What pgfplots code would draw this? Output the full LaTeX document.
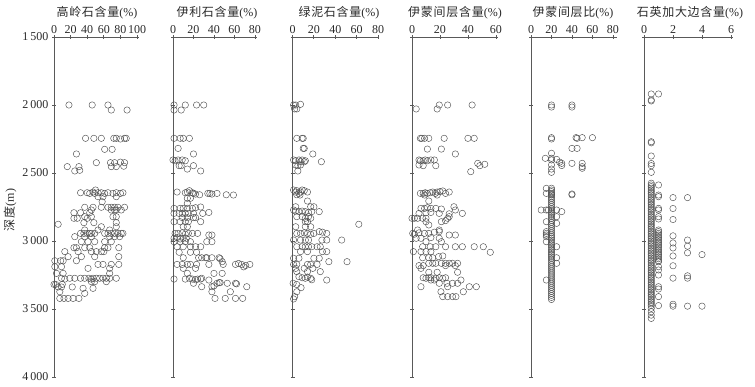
\documentclass[border=0pt]{standalone}
\usepackage{fontspec}
\setmainfont{Liberation Serif}
\newfontfamily\cjk[LetterSpace=6]{Noto Sans CJK SC}
\usepackage{pgfplots}
\pgfplotsset{compat=1.18}
\definecolor{axc}{HTML}{595959}
\definecolor{mkc}{HTML}{505050}
\definecolor{txc}{HTML}{2A2A2A}
\pgfplotsset{panel/.style={
  scale only axis, height=340pt, y dir=reverse, ymin=1500, ymax=4000,
  axis x line*=top, axis y line*=left, xmin=0,
  ytick={1500,2000,2500,3000,3500,4000}, yticklabels={},
  axis line style={draw=axc, line width=0.8pt},
  tick style={draw=axc, line width=0.8pt},
  major tick length=4pt, tick align=center,
  xticklabel style={font=\fontsize{12}{12}\selectfont, text=txc, inner sep=1pt},
  yticklabel style={font=\fontsize{12}{12}\selectfont, text=txc},
  clip=false,
},
pts/.style={only marks, mark=o, mark size=3.2pt, draw=mkc,
  mark options={draw=mkc, fill=none, line width=0.45pt}}}
\newcommand{\ttl}[1]{\fontsize{12}{12}\selectfont\color{txc}#1}
\begin{document}
\begin{tikzpicture}
\useasboundingbox (0pt,37pt) rectangle (755pt,-349pt);
% Panel 1
\begin{axis}[panel, at={(54pt,0pt)}, anchor=north west, xmax=102, width=84.7pt,
  xtick={0,20,40,60,80,100}, xticklabels={0,20,40,60,80,100},
  yticklabels={1\,500,2\,000,2\,500,3\,000,3\,500,4\,000}]
\addplot[pts] table {
18 2000
46 2000
65 2000
88 2037
69 2037
38 2245
48 2245
57 2245
72 2245
75 2245
80 2250
85 2245
87 2245
61 2326
70 2326
27 2360
51 2424
68 2424
73 2424
80 2420
85 2424
16 2453
30 2453
69 2453
75 2453
84 2450
25 2485
31 2480
50 2625
32 2645
40 2645
43 2650
47 2640
49 2650
53 2645
57 2645
61 2650
65 2645
71 2650
75 2645
80 2650
83 2645
53 2674
59 2674
75 2674
58 2711
37 2752
47 2752
57 2752
65 2752
69 2752
73 2752
77 2752
85 2752
45 2772
69 2772
73 2772
75 2772
81 2772
24 2792
32 2792
43 2792
37 2821
45 2821
75 2821
71 2821
40 2833
24 2833
28 2833
36 2865
48 2865
75 2865
5 2877
57 2895
75 2895
37 2919
53 2919
67 2919
32 2944
36 2944
40 2944
43 2944
45 2944
49 2944
61 2944
65 2944
69 2944
73 2944
77 2944
81 2944
83 2944
25 2968
37 2968
45 2968
67 2968
73 2968
79 2968
33 3005
41 3005
49 3005
61 3005
69 3005
24 3049
27 3049
37 3049
43 3049
61 3049
65 3049
78 3049
13 3078
29 3078
45 3078
51 3078
57 3078
60 3078
17 3115
33 3115
49 3115
78 3115
1 3145
8 3145
11 3145
27 3145
53 3172
59 3172
69 3172
78 3172
1 3189
9 3189
41 3201
67 3201
3 3238
11 3238
67 3238
9 3274
13 3280
19 3274
25 3274
32 3274
37 3274
42 3274
45 3280
47 3274
51 3274
55 3274
59 3274
63 3274
67 3274
75 3274
45 3299
49 3299
63 3299
0 3319
2 3319
10 3319
5 3338
9 3338
22 3338
47 3348
35 3348
7 3373
37 3385
7 3422
12 3422
17 3422
23 3422
30 3422
};
\end{axis}
% Panel 2
\begin{axis}[panel, at={(173pt,0pt)}, anchor=north west, xmax=82, width=84pt,
  xtick={0,20,40,60,80}, xticklabels={0,20,40,60,80}]
\addplot[pts] table {
1 2000
12 2000
23 2000
30 2000
1 2037
8 2037
1 2245
7 2245
10 2245
16 2245
5 2319
20 2360
0 2404
2 2410
5 2404
9 2404
12 2410
6 2446
8 2446
20 2446
14 2471
27 2485
4 2640
12 2645
14 2640
16 2630
19 2645
20 2650
22 2655
26 2660
34 2650
36 2650
38 2655
43 2650
52 2660
59 2662
14 2686
17 2686
14 2723
1 2760
7 2760
10 2760
14 2760
19 2760
22 2755
27 2750
1 2797
6 2797
9 2797
12 2797
15 2797
20 2797
29 2797
35 2790
9 2828
14 2828
20 2828
22 2828
1 2858
7 2858
12 2858
15 2858
27 2858
10 2895
14 2895
2 2944
5 2944
9 2940
12 2950
15 2944
19 2944
24 2944
35 2956
38 2956
1 2980
4 2975
7 2985
10 2980
13 2980
1 3005
7 3005
12 3005
17 3005
33 3005
38 3005
4 3042
10 3042
17 3042
22 3042
27 3042
6 3083
17 3083
23 3083
10 3123
25 3123
28 3123
32 3123
33 3123
38 3123
45 3123
46 3130
48 3152
4 3172
9 3172
14 3172
17 3172
23 3172
35 3172
49 3172
61 3172
64 3165
67 3172
71 3180
75 3172
10 3201
22 3201
69 3190
14 3238
40 3238
48 3238
1 3280
12 3280
16 3274
19 3280
22 3285
24 3280
27 3280
28 3274
35 3287
20 3311
43 3311
45 3306
46 3306
53 3311
61 3311
62 3315
28 3336
38 3336
40 3330
72 3336
38 3373
56 3373
41 3422
51 3422
61 3422
68 3422
};
\end{axis}
% Panel 3
\begin{axis}[panel, at={(292.5pt,0pt)}, anchor=north west, xmax=81, width=86.6pt,
  xtick={0,20,40,60,80}, xticklabels={0,20,40,60,80}]
\addplot[pts] table {
1 2000
3 2000
7.5 1995
2 2029
4 2029
4 2245
9 2245
10 2245
10 2319
11 2319
19 2360
1 2404
3 2410
6 2404
7.5 2417
9 2404
11 2417
12 2410
3 2441
5 2446
7.5 2441
27 2417
5 2485
1 2625
3 2640
4 2630
6 2650
7.5 2640
9 2625
11 2630
14 2640
4 2660
7 2662
14 2706
3 2748
17 2748
20 2748
1 2772
3 2780
6 2784
9 2780
12 2784
15 2790
18 2784
25 2784
4 2821
9 2821
12 2833
15 2821
17 2833
12 2858
14 2858
62 2877
3 2895
12 2895
17 2895
4 2944
7.5 2944
11 2940
14 2944
17 2950
20 2944
25 2931
28 2935
32 2944
1 2993
7.5 2993
12 2993
15 2993
27.5 2993
46 2993
32 2993
4 3042
9 3042
12 3042
15 3042
18 3042
23 3042
26 3042
7.5 3078
14 3078
28 3078
32 3078
1 3127
6 3127
20 3127
25 3127
34 3152
51 3152
1 3172
4 3172
14 3172
17 3172
23 3172
3 3201
11 3201
19 3201
4 3225
14 3225
26 3225
6 3262
9 3270
12 3274
14 3265
17 3274
18 3285
32 3287
0.6 3311
4 3320
8 3343
4 3373
2 3409
1 3426
};
\end{axis}
% Panel 4
\begin{axis}[panel, at={(412pt,0pt)}, anchor=north west, xmax=61.5, width=86pt,
  xtick={0,20,40,60}, xticklabels={0,20,40,60}]
\addplot[pts] table {
19.5 2000
25.5 2000
43 2000
3 2029
18 2029
6 2245
7 2245
9 2245
12 2245
23 2245
40 2245
44.5 2245
11 2324
21 2324
31 2360
5 2404
6 2410
8 2410
9.5 2404
11 2410
13.5 2404
16 2404
5 2441
8 2446
17 2446
47 2429
48.5 2446
52 2436
42 2490
6 2650
8 2650
9.5 2645
11 2650
13 2645
14.8 2640
16.7 2650
18 2640
20 2637
22 2632
24 2650
26.6 2640
9 2662
18 2662
12 2706
6.4 2760
9 2760
11 2755
13.5 2760
17 2760
21 2765
30 2748
31 2772
5 2797
10 2792
13.5 2790
19.5 2797
26.6 2800
36 2797
0 2833
1.7 2833
4 2833
7.6 2833
10 2833
25.5 2833
26.6 2821
10 2858
21 2858
24 2850
12 2882
4 2919
19.5 2919
0.5 2944
1.7 2950
5 2940
9 2944
12 2944
16 2935
19.5 2931
26.6 2956
31 2956
3 2980
6.4 2980
13.5 2975
19.5 2980
10 3005
21 3005
7.6 3042
13 3042
17 3042
24 3042
31 3042
36 3042
44.5 3042
51 3042
1 3078
6.4 3078
10 3078
13.5 3078
56 3083
7.6 3123
12 3123
14.8 3123
19 3115
22 3110
12 3164
14.8 3164
17 3164
21 3164
24 3164
26.6 3164
29 3164
32.6 3164
5 3181
8 3181
24 3181
31 3181
6.4 3201
12 3230
18 3230
32.6 3230
8 3270
10 3274
12 3270
13.5 3270
17 3274
19.5 3270
22 3274
24 3270
13.5 3287
16 3287
35 3287
19.5 3311
25 3311
29 3311
32.6 3311
6.4 3336
25.5 3336
41 3336
46 3336
20.7 3373
36.7 3373
22 3409
25.5 3409
29 3409
31.4 3409
};
\end{axis}
% Panel 5
\begin{axis}[panel, at={(531pt,0pt)}, anchor=north west, xmax=84, width=86pt,
  xtick={0,20,40,60,80}, xticklabels={0,20,40,60,80}]
\addplot[pts] table {
20 2000
20 2015
40 2000
40 2015
20 2240
20 2250
44 2240
45 2245
50 2240
60 2240
40 2319
45 2319
20 2355
14 2392
20 2392
25 2400
20 2404
28 2420
30 2429
40 2429
50 2429
20 2441
30 2445
50 2453
50 2465
20 2471
20 2495
15 2613
15 2650
20 2655
40 2654
40 2660
10 2772
15 2772
17 2772
25 2772
30 2784
25 2821
15 2858
25 2870
15 2931
15 2944
15 2956
15 2968
15 3005
25 3042
25 3123
25 3164
15 3287
20 2612
20 2625
20 2637
20 2650
20 2662
20 2674
20 2686
20 2700
20 2715
20 2730
20 2745
20 2760
20 2772
20 2784
20 2797
20 2810
20 2822
20 2835
20 2850
20 2865
20 2880
20 2895
20 2910
20 2925
20 2940
20 2955
20 2968
20 2980
20 2993
20 3005
20 3018
20 3030
20 3042
20 3055
20 3068
20 3080
20 3093
20 3105
20 3118
20 3130
20 3145
20 3160
20 3175
20 3190
20 3205
20 3220
20 3235
20 3250
20 3265
20 3280
20 3295
20 3310
20 3325
20 3340
20 3355
20 3370
20 3385
20 3400
20 3415
20 3430
};
\end{axis}
% Panel 6
\begin{axis}[panel, at={(644pt,0pt)}, anchor=north west, xmax=6.1, width=88.5pt,
  xtick={0,2,4,6}, xticklabels={0,2,4,6}]
\addplot[pts] table {
0.5 1919
1 1919
0.5 1963
0.5 1970
0.5 2270
0.5 2278
0.5 2375
0.5 2430
0.5 2446
0.5 2495
0.5 2575
0.5 2588
0.5 2600
0.5 2612
0.5 2625
0.5 2637
0.5 2650
0.5 2662
0.5 2675
0.5 2688
0.5 2700
0.5 2712
0.5 2725
0.5 2737
0.5 2750
0.5 2762
0.5 2775
0.5 2787
0.5 2800
0.5 2812
0.5 2825
0.5 2837
0.5 2850
0.5 2862
0.5 2875
0.5 2887
0.5 2900
0.5 2912
0.5 2925
0.5 2937
0.5 2950
0.5 2962
0.5 2975
0.5 2987
0.5 3000
0.5 3012
0.5 3025
0.5 3037
0.5 3050
0.5 3062
0.5 3075
0.5 3087
0.5 3100
0.5 3112
0.5 3125
0.5 3137
0.5 3150
0.5 3162
0.5 3175
0.5 3187
0.5 3200
0.5 3212
0.5 3225
0.5 3237
0.5 3250
0.5 3262
0.5 3275
0.5 3287
0.5 3300
0.5 3312
0.5 3325
0.5 3337
0.5 3350
0.5 3362
0.5 3375
0.5 3387
0.5 3400
0.5 3412
0.5 3425
0.5 3437
0.5 3450
0.5 3462
0.5 3475
0.5 3495
0.5 3520
0.5 3545
0.5 3569
1 2588
1 2662
1 2674
1 2760
1 2772
1 2821
1 2838
1 2919
1 2931
1 2944
1 2956
1 2968
1 2980
1 2993
1 3005
1 3018
1 3030
1 3042
1 3055
1 3068
1 3080
1 3093
1 3105
1 3118
1 3130
1 3145
1 3152
1 3189
1 3213
1 3250
1 3336
1 3353
1 3409
1 3475
2 2681
2 2761
2 2842
2 2962
2 3014
2 3051
2 3110
2 3182
2 3273
2 3465
2 3479
3 2681
3 2993
3 3038
3 3087
3 3256
3 3273
3 3479
4 3100
4 3479
};
\end{axis}
% titles and labels
\node[anchor=base] at (97pt,21pt) {\ttl{{\cjk 高岭石含量}(\%)}};
\node[anchor=base] at (217pt,21pt) {\ttl{{\cjk 伊利石含量}(\%)}};
\node[anchor=base] at (339pt,21pt) {\ttl{{\cjk 绿泥石含量}(\%)}};
\node[anchor=base] at (455pt,21pt) {\ttl{{\cjk 伊蒙间层含量}(\%)}};
\node[anchor=base] at (573pt,21pt) {\ttl{{\cjk 伊蒙间层比}(\%)}};
\node[anchor=base] at (690pt,21pt) {\ttl{{\cjk 石英加大边含量}(\%)}};
\node[rotate=90] at (10pt,-173pt) {\ttl{{\cjk 深度}(m)}};
\end{tikzpicture}
\end{document}
